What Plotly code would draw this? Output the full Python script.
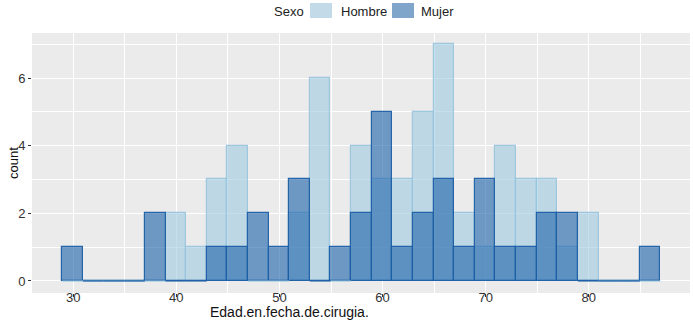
import plotly.graph_objects as go

# Histogram of Edad.en.fecha.de.cirugia. by Sexo (counts per 2-year bin)
bin_start = 28.95
bin_width = 2.0
hombre_counts = [0, 0, 0, 0, 0, 2, 1, 3, 4, 0, 0, 2, 6, 0, 4, 3, 3, 5, 7, 2, 1, 4, 3, 3, 1, 2, 0, 0, 0]
mujer_counts = [1, 0, 0, 0, 2, 0, 0, 1, 1, 2, 1, 3, 0, 1, 2, 5, 1, 2, 3, 1, 3, 1, 1, 2, 2, 0, 0, 0, 1]
x_ticks = [30, 40, 50, 60, 70, 80]
y_ticks = [0, 2, 4, 6]
groups = ["Hombre", "Mujer"]

n_bins = len(mujer_counts)
centers = [bin_start + bin_width * (i + 0.5) for i in range(n_bins)]

H_FILL = "rgba(158,202,225,0.6)"
H_LINE = "rgba(150,196,222,0.9)"
M_FILL = "rgba(33,102,172,0.62)"
M_LINE = "rgba(30,95,165,0.95)"
KEY_COLORS = ["rgb(195,219,232)", "rgb(128,165,202)"]

# layout geometry (pixels)
W, H = 694, 321
ML, MR, MT, MB = 32, 4, 33, 28
PW, PH = W - ML - MR, H - MT - MB


def px(x):
    return (x - ML) / PW


def py(y):
    return (H - MB - y) / PH


def zero_segments(counts):
    xs, ys = [], []
    for c, cnt in zip(centers, counts):
        if cnt == 0:
            xs += [c - bin_width / 2, c + bin_width / 2, None]
            ys += [0, 0, None]
    return xs, ys


fig = go.Figure()
fig.add_trace(go.Bar(x=centers, y=hombre_counts, width=bin_width, name=groups[0],
                     marker=dict(color=H_FILL, line=dict(color=H_LINE, width=1.2))))
fig.add_trace(go.Bar(x=centers, y=mujer_counts, width=bin_width, name=groups[1],
                     marker=dict(color=M_FILL, line=dict(color=M_LINE, width=1.2))))
hx, hy = zero_segments(hombre_counts)
mx, my = zero_segments(mujer_counts)
fig.add_trace(go.Scatter(x=hx, y=hy, mode="lines", line=dict(color=H_LINE, width=1.2),
                         hoverinfo="skip"))
fig.add_trace(go.Scatter(x=mx, y=my, mode="lines", line=dict(color=M_LINE, width=1.2),
                         hoverinfo="skip"))

fig.update_layout(
    width=W, height=H,
    margin=dict(l=ML, r=MR, t=MT, b=MB, autoexpand=False),
    paper_bgcolor="white",
    plot_bgcolor="#EBEBEB",
    barmode="overlay",
    bargap=0,
    showlegend=False,
    font=dict(family="Liberation Sans, Arial, sans-serif", color="#222"),
)
fig.update_xaxes(
    range=[26.0, 89.82], tickvals=x_ticks, ticktext=[str(v) for v in x_ticks],
    showgrid=True, gridcolor="white", gridwidth=1.3,
    minor=dict(dtick=5, tick0=25, showgrid=True, gridcolor="white", gridwidth=0.6, ticklen=0),
    ticks="outside", ticklen=3, tickcolor="#333", tickwidth=1,
    ticklabelposition="outside", ticklabelstandoff=-11,
    tickfont=dict(size=13, color="#333"), zeroline=False, showline=False, automargin=False,
)
fig.update_yaxes(
    range=[-0.355, 7.33], tickvals=y_ticks, ticktext=[str(v) for v in y_ticks],
    showgrid=True, gridcolor="white", gridwidth=1.3,
    minor=dict(dtick=1, tick0=1, showgrid=True, gridcolor="white", gridwidth=0.6, ticklen=0),
    ticks="outside", ticklen=3, tickcolor="#333", tickwidth=1,
    tickfont=dict(size=13, color="#333"), zeroline=False, showline=False, automargin=False,
)

# axis titles
fig.add_annotation(text="Edad.en.fecha.de.cirugia.", xref="paper", yref="paper",
                   x=px(289), y=py(320.5), xanchor="center", yanchor="bottom",
                   showarrow=False, font=dict(size=14, color="#111"), borderpad=0)
fig.add_annotation(text="count", xref="paper", yref="paper", textangle=-90,
                   x=px(13), y=py(163), xanchor="center", yanchor="middle",
                   showarrow=False, font=dict(size=13, color="#111"))

# legend (title, keys, labels)
fig.add_annotation(text="Sexo", xref="paper", yref="paper", x=px(272), y=py(11),
                   xanchor="left", yanchor="middle", showarrow=False,
                   font=dict(size=13, color="#222"))
key_x = [310, 392]
label_x = [339, 419]
for g, kx, lx, col in zip(groups, key_x, label_x, KEY_COLORS):
    fig.add_shape(type="rect", xref="paper", yref="paper",
                  x0=px(kx), x1=px(kx + 22), y0=py(18), y1=py(3),
                  fillcolor=col, line=dict(width=0))
    fig.add_annotation(text=g, xref="paper", yref="paper", x=px(lx), y=py(11),
                       xanchor="left", yanchor="middle", showarrow=False,
                       font=dict(size=13, color="#222"))

fig.write_html("out.html")
